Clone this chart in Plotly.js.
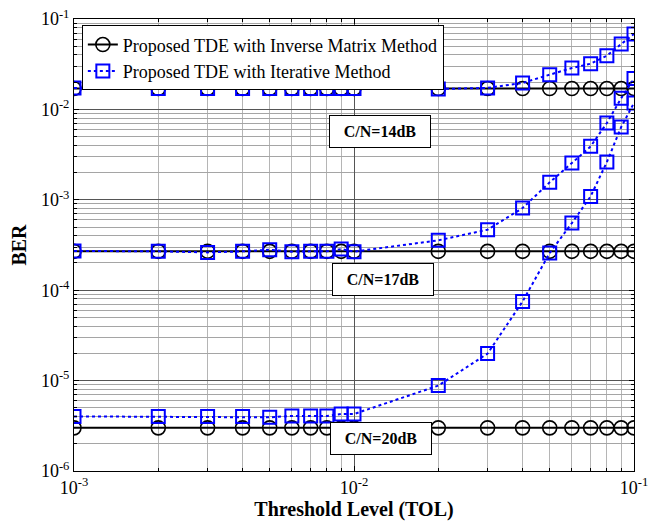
<!DOCTYPE html>
<html>
<head>
<meta charset="utf-8">
<script src="https://cdn.plot.ly/plotly-3.0.1.min.js"></script>
<style>html,body{margin:0;padding:0;background:#fff;}</style>
</head>
<body>
<div id="chart" style="width:656px;height:524px;"></div>
<script>
// Threshold levels (TOL)
const tol = [0.001,0.002,0.003,0.004,0.005,0.006,0.007,0.008,0.009,0.01,
             0.02,0.03,0.04,0.05,0.06,0.07,0.08,0.09,0.1];

// Inverse matrix method BER
const inv14 = [1.7e-2,1.7e-2,1.7e-2,1.7e-2,1.7e-2,1.7e-2,1.7e-2,1.7e-2,1.7e-2,1.7e-2,
               1.7e-2,1.7e-2,1.7e-2,1.7e-2,1.7e-2,1.7e-2,1.7e-2,1.7e-2,1.7e-2];
const inv17 = [2.69e-4,2.69e-4,2.69e-4,2.69e-4,2.69e-4,2.69e-4,2.69e-4,2.69e-4,2.69e-4,2.69e-4,
               2.69e-4,2.69e-4,2.69e-4,2.69e-4,2.69e-4,2.69e-4,2.69e-4,2.69e-4,2.69e-4];
const inv20 = [3.0e-6,3.0e-6,3.0e-6,3.0e-6,3.0e-6,3.0e-6,3.0e-6,3.0e-6,3.0e-6,3.0e-6,
               3.0e-6,3.0e-6,3.0e-6,3.0e-6,3.0e-6,3.0e-6,3.0e-6,3.0e-6,3.0e-6];

// Iterative method BER
const it14 = [1.72e-2,1.7e-2,1.7e-2,1.7e-2,1.7e-2,1.7e-2,1.7e-2,1.7e-2,1.7e-2,1.7e-2,
              1.68e-2,1.73e-2,1.96e-2,2.42e-2,2.87e-2,3.2e-2,3.93e-2,5.28e-2,6.83e-2];
const it17 = [2.72e-4,2.69e-4,2.62e-4,2.69e-4,2.8e-4,2.67e-4,2.69e-4,2.69e-4,2.85e-4,2.67e-4,
              3.56e-4,4.67e-4,8.1e-4,1.56e-3,2.55e-3,3.9e-3,7.08e-3,1.33e-2,2.19e-2];
const it20 = [4.02e-6,4.0e-6,4.0e-6,4.0e-6,3.92e-6,4.07e-6,4.05e-6,4.05e-6,4.27e-6,4.27e-6,
              8.8e-6,1.99e-5,7.5e-5,2.58e-4,5.53e-4,1.09e-3,2.62e-3,6.38e-3,1.18e-2];

const xTickVals = [1e-3,1e-2,1e-1];
const xTickText = ['10<sup>-3</sup>','10<sup>-2</sup>','10<sup>-1</sup>'];
const yTickVals = [1e-6,1e-5,1e-4,1e-3,1e-2,1e-1];
const yTickText = ['10<sup>-6</sup>','10<sup>-5</sup>','10<sup>-4</sup>','10<sup>-3</sup>','10<sup>-2</sup>','10<sup>-1</sup>'];

const legendNames = ['Proposed TDE with Inverse Matrix Method','Proposed TDE with Iterative Method'];
const cnLabels = ['C/N=14dB','C/N=17dB','C/N=20dB'];

function minorVals(lo, hi){
  const v=[];
  for(let e=lo;e<hi;e++){ for(let k=2;k<=9;k++){ v.push(k*Math.pow(10,e)); } }
  return v;
}

const invStyle = (show)=>({
  type:'scatter', mode:'lines+markers', x:tol, name:legendNames[0], showlegend:show,
  line:{color:'#000000', width:2},
  marker:{symbol:'circle-open', size:14, color:'#000000', line:{width:1.6, color:'#000000'}}
});
const itStyle = (show)=>({
  type:'scatter', mode:'lines+markers', x:tol, name:legendNames[1], showlegend:show,
  line:{color:'#0000ff', width:2, dash:'dot'},
  marker:{symbol:'square-open', size:13, color:'#0000ff', line:{width:2, color:'#0000ff'}}
});

const traces = [
  Object.assign(invStyle(true), {y:inv14}),
  Object.assign(invStyle(false), {y:inv17}),
  Object.assign(invStyle(false), {y:inv20}),
  Object.assign(itStyle(true), {y:it14}),
  Object.assign(itStyle(false), {y:it17}),
  Object.assign(itStyle(false), {y:it20})
];

const serif = 'Liberation Serif, Times New Roman, serif';

const axisCommon = {
  type:'log', showline:true, linecolor:'#000', linewidth:1, mirror:'ticks',
  ticks:'inside', ticklen:5, tickcolor:'#000', tickwidth:1,
  showgrid:true, gridcolor:'#555555', gridwidth:1, zeroline:false,
  tickfont:{family:serif, size:18, color:'#000'}, tickmode:'array'
};

const layout = {
  width:656, height:524,
  margin:{l:74, r:22, t:19, b:53},
  paper_bgcolor:'#fff', plot_bgcolor:'#fff',
  font:{family:serif, color:'#000'},
  xaxis: Object.assign({}, axisCommon, {
    range:[-3,-1], tickvals:xTickVals, ticktext:xTickText,
    minor:{tickvals:minorVals(-3,-1), ticks:'inside', ticklen:3, tickcolor:'#000', showgrid:true, gridcolor:'#b5b5b5', gridwidth:1},
    title:{text:'<b>Threshold Level (TOL)</b>', font:{family:serif, size:20, color:'#000'}, standoff:2}
  }),
  yaxis: Object.assign({}, axisCommon, {
    range:[-6,-1], tickvals:yTickVals, ticktext:yTickText,
    minor:{tickvals:minorVals(-6,-1), ticks:'inside', ticklen:3, tickcolor:'#000', showgrid:true, gridcolor:'#a5a5a5', gridwidth:1},
    title:{text:'<b>BER</b>', font:{family:serif, size:20, color:'#000'}, standoff:8}
  }),
  legend:{
    x:0.014, y:0.986, xanchor:'left', yanchor:'top',
    bgcolor:'#ffffff', bordercolor:'#000', borderwidth:1,
    font:{family:serif, size:18, color:'#000'}, tracegroupgap:0
  },
  annotations:[
    {text:'<b>'+cnLabels[0]+'</b>', xref:'paper', yref:'paper', x:0.546, y:0.788, showarrow:false,
     font:{family:serif, size:16, color:'#000'}, bgcolor:'#fff', bordercolor:'#000', borderwidth:1, borderpad:3, width:94, height:25},
    {text:'<b>'+cnLabels[1]+'</b>', xref:'paper', yref:'paper', x:0.551, y:0.4226, showarrow:false,
     font:{family:serif, size:16, color:'#000'}, bgcolor:'#fff', bordercolor:'#000', borderwidth:1, borderpad:3, width:94, height:25},
    {text:'<b>'+cnLabels[2]+'</b>', xref:'paper', yref:'paper', x:0.548, y:0.035, showarrow:false,
     font:{family:serif, size:16, color:'#000'}, bgcolor:'#fff', bordercolor:'#000', borderwidth:1, borderpad:3, width:94, height:25}
  ]
};

Plotly.newPlot('chart', traces, layout, {displayModeBar:false, staticPlot:true});
</script>
</body>
</html>
